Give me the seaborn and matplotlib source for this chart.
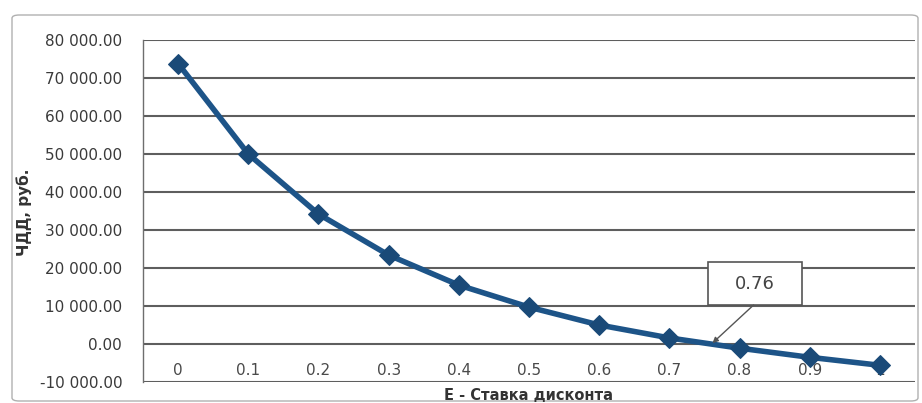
import matplotlib
matplotlib.use("Agg")
import matplotlib.pyplot as plt
from matplotlib.patches import FancyBboxPatch, Rectangle
import seaborn as sns
import pandas as pd

# Discount rate vs. net present value
rates = [0, 0.1, 0.2, 0.3, 0.4, 0.5, 0.6, 0.7, 0.8, 0.9, 1]
rate_labels = ["0", "0.1", "0.2", "0.3", "0.4", "0.5", "0.6", "0.7", "0.8", "0.9", "1"]
npv = [73800, 50000, 34200, 23400, 15500, 9700, 5000, 1600, -1100, -3500, -5600]
irr = 0.76
irr_label = "0.76"

y_ticks = [-10000, 0, 10000, 20000, 30000, 40000, 50000, 60000, 70000, 80000]

df = pd.DataFrame({"rate": rates, "npv": npv})

sns.set_theme(style="white")
plt.rcParams["font.family"] = ["DejaVu Sans"]

W, H = 922, 403
fig = plt.figure(figsize=(W / 100, H / 100), dpi=100)
fig.patch.set_facecolor("white")

# outer chart frame
frame = FancyBboxPatch((12 / W, 2 / H), 906 / W, (H - 17) / H,
                       boxstyle="round,pad=0,rounding_size=0.008",
                       transform=fig.transFigure, facecolor="none",
                       edgecolor="#b0b0b0", linewidth=1.0, zorder=-1)
fig.patches.append(frame)

left, right, top, bottom = 143, 915, 40, 382
ax = fig.add_axes([left / W, 1 - bottom / H, (right - left) / W, (bottom - top) / H])
ax.set_facecolor("none")

sns.lineplot(data=df, x="rate", y="npv", ax=ax, color="#1d5488",
             linewidth=4.0, marker="D", markersize=10,
             markeredgecolor="#1a4a78", markerfacecolor="#1a4a78", zorder=3)

# category axis crosses at zero (set before tick labels, it resets them)
for s in ["top", "right", "bottom"]:
    ax.spines[s].set_visible(False)
ax.spines["bottom"].set_position(("data", 0))
ax.spines["left"].set_color("#6e6e6e")
ax.spines["left"].set_linewidth(1.0)

ax.set_xlim(-0.05, 1.05)
ax.set_ylim(-10000, 80000)
ax.set_yticks(y_ticks)
ax.set_yticklabels([f"{v:,.2f}".replace(",", " ") for v in y_ticks],
                   fontsize=11, color="#3a3a3a")
ax.set_xticks(rates)
ax.set_xticklabels(rate_labels, fontsize=11, color="#4a4a4a")
ax.tick_params(axis="x", length=0, pad=14)
ax.tick_params(axis="y", length=0, pad=15)

# horizontal gridlines
for v in y_ticks:
    ax.axhline(v, color="#5e5e5e", linewidth=1.5, zorder=1)

ax.set_xlabel("")
ax.set_ylabel("")
fig.text(528 / W, 1 - 395 / H, "E - Ставка дисконта", ha="center", va="center",
         fontsize=10.5, fontweight="bold", color="#333333")
fig.text(24 / W, 1 - 212 / H, "ЧДД, руб.", ha="center", va="center",
         rotation=90, fontsize=11, fontweight="bold", color="#333333")

# callout for the internal rate of return
bx0, bx1 = 0.755, 0.889
by0, by1 = 10260, 21580
ax.add_patch(Rectangle((bx0, by0), bx1 - bx0, by1 - by0, facecolor="white",
                       edgecolor="#555555", linewidth=1.2, zorder=4))
ax.text((bx0 + bx1) / 2, (by0 + by1) / 2, irr_label, ha="center", va="center",
        fontsize=13, color="#444444", zorder=5)
ax.annotate("", xy=(irr, 0), xytext=(0.82, by0),
            arrowprops=dict(arrowstyle="-|>", color="#555555", lw=1.0,
                            mutation_scale=8, shrinkA=0, shrinkB=1),
            zorder=5)

fig.savefig("out.png", dpi=100)
